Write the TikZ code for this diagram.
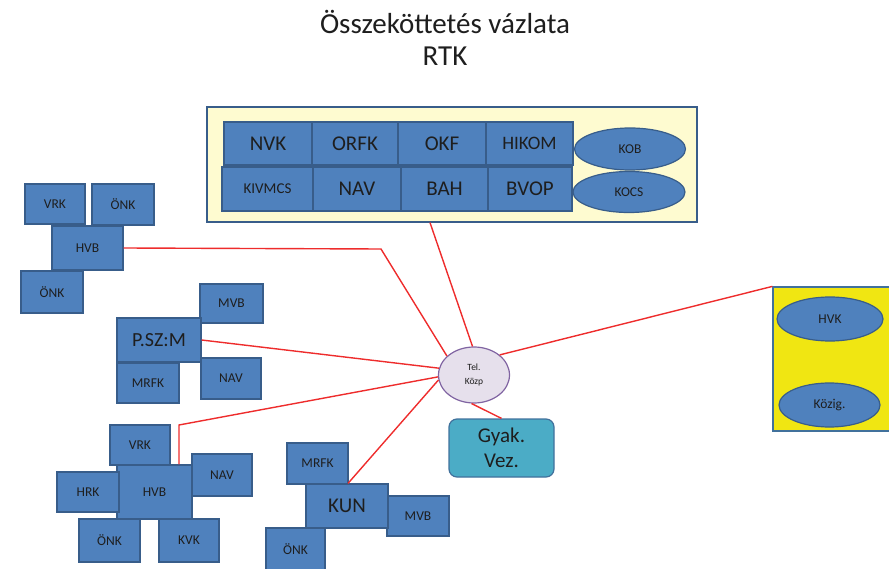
\documentclass[tikz,border=0pt]{standalone}
\usepackage{fontspec}
\setmainfont{Carlito}
\usetikzlibrary{shapes.geometric}
\definecolor{bxfill}{HTML}{4F81BD}
\definecolor{bxline}{HTML}{385D8A}
\definecolor{txt}{HTML}{1E1E1E}
\definecolor{lnred}{HTML}{EE2C2C}
\definecolor{paleyel}{HTML}{FEFBD0}
\definecolor{strongyel}{HTML}{F0E612}
\definecolor{telfill}{HTML}{E6E0EC}
\definecolor{telline}{HTML}{8064A2}
\definecolor{gyfill}{HTML}{4BACC6}
\definecolor{gyline}{HTML}{41719C}
\tikzset{
  bx/.style={draw=bxline, fill=bxfill, line width=1.2pt, inner sep=0pt, text=txt, font=\fontsize{13.5}{15}\selectfont},
  bigbx/.style={bx, font=\fontsize{21}{24}\selectfont},
  ell/.style={ellipse, draw=bxline, fill=bxfill, line width=1.2pt, inner sep=0pt, text=txt, font=\fontsize{13.5}{15}\selectfont},
  conn/.style={draw=lnred, line width=1.4pt},
  titletext/.style={text=txt, font=\fontsize{29}{32}\selectfont}
}
\begin{document}
\begin{tikzpicture}[x=1pt,y=-1pt]
\useasboundingbox (0,0) rectangle (889,569);
% title
\node[titletext] (t1) at (445,22) {Összeköttetés vázlata};
\node[titletext] (t2) at (445,56) {RTK};
% top box
\node[draw=bxline, fill=paleyel, line width=1.2pt, minimum width=490pt, minimum height=115pt, inner sep=0pt] (topbox) at (452,164.5) {};
\node[bigbx, minimum width=88pt, minimum height=43pt] (nvk) at (268,143.5) {NVK};
\node[bigbx, minimum width=86pt, minimum height=43pt] (orfk) at (355,143.5) {ORFK};
\node[bigbx, minimum width=88pt, minimum height=43pt] (okf) at (442,143.5) {OKF};
\node[bx, font=\fontsize{19}{22}\selectfont, minimum width=87pt, minimum height=43pt] (hikom) at (529.5,143.5) {HIKOM};
\node[bx, font=\fontsize{15}{17}\selectfont, minimum width=91pt, minimum height=44pt] (kivmcs) at (267.5,189) {KIVMCS};
\node[bigbx, minimum width=88pt, minimum height=44pt] (nav1) at (357,189) {NAV};
\node[bigbx, minimum width=87pt, minimum height=44pt] (bah) at (444.5,189) {BAH};
\node[bigbx, minimum width=84pt, minimum height=44pt] (bvop) at (530,189) {BVOP};
\node[ell, minimum width=111pt, minimum height=42pt] (kob) at (630,149) {KOB};
\node[ell, minimum width=112pt, minimum height=41pt] (kocs) at (629,192) {KOCS};
% right box
\node[draw=gyline, fill=strongyel, line width=1.2pt, minimum width=122pt, minimum height=144pt, inner sep=0pt] (rbox) at (834,359) {};
\node[ell, minimum width=106pt, minimum height=44pt] (hvk) at (830,319) {HVK};
\node[ell, minimum width=101pt, minimum height=44pt] (kozig) at (829.5,405) {Közig.};
% left group 1
\node[bx, minimum width=60pt, minimum height=40pt] (vrk1) at (55,204) {VRK};
\node[bx, minimum width=62pt, minimum height=41pt] (onk1a) at (123,204.5) {ÖNK};
\node[bx, minimum width=71pt, minimum height=44pt] (hvb1) at (87.5,248) {HVB};
\node[bx, minimum width=62pt, minimum height=42pt] (onk1b) at (52,292) {ÖNK};
% P.SZ:M group
\node[bx, minimum width=63pt, minimum height=39pt] (mvb2) at (231.5,303.5) {MVB};
\node[bx, font=\fontsize{20}{23}\selectfont, minimum width=84pt, minimum height=44pt] (pszm) at (159,340) {P.SZ:M};
\node[bx, minimum width=62pt, minimum height=40pt] (mrfk2) at (148,383) {MRFK};
\node[bx, minimum width=60pt, minimum height=41pt] (nav2) at (231,378.5) {NAV};
% left group 3
\node[bx, minimum width=60pt, minimum height=40pt] (vrk3) at (140,445) {VRK};
\node[bx, minimum width=75pt, minimum height=54pt] (hvb3) at (154.5,492) {HVB};
\node[bx, minimum width=62pt, minimum height=40pt] (hrk) at (88,492) {HRK};
\node[bx, minimum width=60pt, minimum height=42pt] (nav3) at (222,475) {NAV};
\node[bx, minimum width=61pt, minimum height=43pt] (onk3) at (109.5,540.5) {ÖNK};
\node[bx, minimum width=60pt, minimum height=43pt] (kvk) at (189,540.5) {KVK};
% KUN group
\node[bx, minimum width=61pt, minimum height=41pt] (mrfk4) at (317.5,463.5) {MRFK};
\node[bx, minimum width=62pt, minimum height=40pt] (mvb4) at (418,516) {MVB};
\node[bigbx, minimum width=82pt, minimum height=44pt] (kun) at (347,506) {KUN};
\node[bx, minimum width=59pt, minimum height=42pt] (onk4) at (295.5,549) {ÖNK};
% centre
\node[ellipse, draw=telline, fill=telfill, line width=1.2pt, minimum width=71pt, minimum height=56pt, inner sep=0pt, align=center, text=txt, font=\fontsize{9.5}{14}\selectfont] (tel) at (474,375) {Tel.\\Közp};
\node[draw=gyline, fill=gyfill, rounded corners=8pt, line width=1.2pt, minimum width=105pt, minimum height=58pt, inner sep=0pt, align=center, text=txt, font=\fontsize{21}{25}\selectfont] (gyak) at (501.5,448) {Gyak.\\Vez.};
% connectors
\coordinate (c1) at (381,249);
\coordinate (c3) at (179,425);
\path[conn] ([xshift=-22pt]topbox.south) -- (tel.93);
\path[conn] (hvb1.east) -- (c1) -- (tel.145);
\path[conn] (pszm.east) -- (tel.169);
\path[conn] ([xshift=24.5pt]hvb3.north) -- (c3) -- (tel.183);
\path[conn] ([xshift=1pt]kun.north) -- (tel.188);
\path[conn] (tel.38) -- (rbox.north west);
\path[conn] (tel.265) -- (gyak.north);
\end{tikzpicture}
\end{document}
